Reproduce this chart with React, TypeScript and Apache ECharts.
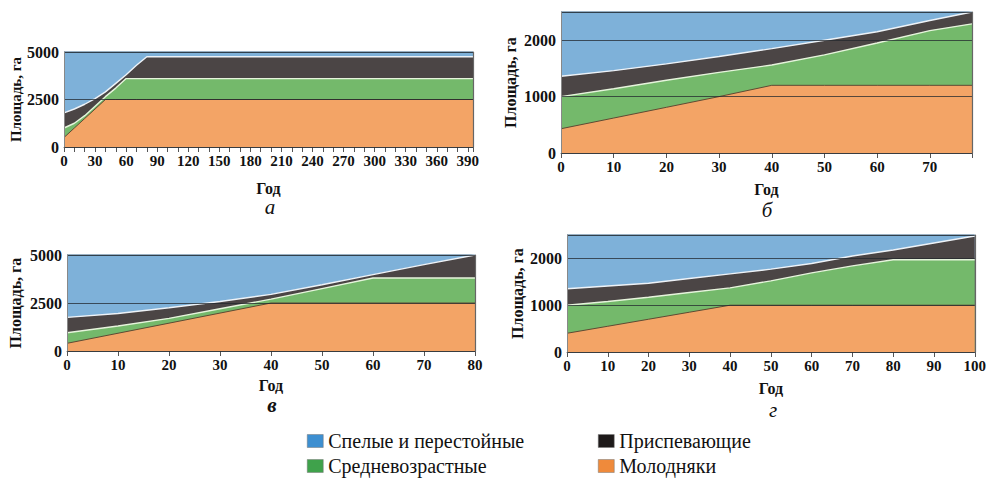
import React, { useEffect, useRef } from "react";
import * as echarts from "echarts";

const SERIES_NAMES = ["Молодняки", "Средневозрастные", "Приспевающие", "Спелые и перестойные"];
const LEGEND_LEFT = ["Спелые и перестойные", "Средневозрастные"];
const LEGEND_RIGHT = ["Приспевающие", "Молодняки"];
const X_NAME = "Год";
const Y_NAME = "Площадь, га";
const PANEL_LETTERS = ["а", "б", "в", "г"];

// Panel а
const yearsA = [0, 10, 20, 30, 40, 50, 60, 70, 80, 395];
const youngA = [500, 1000, 1500, 2000, 2500, 2500, 2500, 2500, 2500, 2500];
const middleA = [500, 250, 150, 150, 150, 600, 1100, 1100, 1100, 1100];
const preMatureA = [800, 750, 600, 400, 250, 250, 200, 700, 1150, 1150];
const matureA = [3200, 3000, 2750, 2450, 2100, 1650, 1200, 700, 250, 250];

// Panel б
const yearsB = [0, 10, 20, 30, 40, 50, 60, 70, 78];
const youngB = [430, 620, 810, 1000, 1200, 1200, 1200, 1200, 1200];
const middleB = [570, 520, 480, 430, 360, 540, 750, 970, 1090];
const preMatureB = [360, 320, 290, 280, 290, 260, 200, 180, 210];
const matureB = [1140, 1040, 920, 790, 650, 500, 350, 150, 0];

// Panel в
const yearsC = [0, 10, 20, 30, 40, 50, 60, 70, 80];
const youngC = [400, 925, 1450, 1975, 2500, 2500, 2500, 2500, 2500];
const middleC = [550, 375, 250, 225, 200, 750, 1300, 1300, 1300];
const preMatureC = [800, 650, 550, 380, 250, 200, 180, 700, 1200];
const matureC = [3250, 3050, 2750, 2420, 2050, 1550, 1020, 500, 0];

// Panel г
const yearsD = [0, 10, 20, 30, 40, 50, 60, 70, 80, 90, 100];
const youngD = [400, 550, 700, 850, 1000, 1000, 1000, 1000, 1000, 1000, 1000];
const middleD = [600, 530, 470, 420, 370, 520, 690, 840, 970, 970, 970];
const preMatureD = [350, 330, 300, 300, 300, 250, 200, 210, 210, 360, 510];
const matureD = [1150, 1090, 1030, 930, 830, 730, 610, 450, 320, 170, 20];

// Axis settings
const xMaxes = [395, 78, 80, 100];
const xLabelSteps = [30, 10, 10, 10];
const yMaxes = [5000, 2500, 5000, 2500];
const yIntervals = [2500, 1000, 2500, 1000];

const FONT = "Liberation Serif";
const AREA_COLORS = ["#f3a466", "#74b96b", "#4b4545", "#7eb1d9"];
const LINE_COLORS = ["#5e4a33", "#e6f4dc", "#eef3f8", "#4d7393"];
const LEGEND_COLORS: Record<string, string> = {
  "Спелые и перестойные": "#3d8fd1",
  "Средневозрастные": "#3fa24b",
  "Приспевающие": "#1e1a1a",
  "Молодняки": "#ef8a3b",
};

const panels = [
  { years: yearsA, values: [youngA, middleA, preMatureA, matureA] },
  { years: yearsB, values: [youngB, middleB, preMatureB, matureB] },
  { years: yearsC, values: [youngC, middleC, preMatureC, matureC] },
  { years: yearsD, values: [youngD, middleD, preMatureD, matureD] },
];

const grids = [
  { left: 64, top: 52, width: 409, height: 95 },
  { left: 561, top: 12, width: 411, height: 141 },
  { left: 67, top: 255, width: 408, height: 96 },
  { left: 567, top: 235, width: 409, height: 117 },
];
const yNameGaps = [40, 43, 44, 42];
const yNameSizes = [15, 16, 16, 16];
const xNameGaps = [33, 28, 26, 28];
const letterPos = [
  [270, 207],
  [767, 210],
  [272, 405],
  [773, 410],
];

export default function App() {
  const ref = useRef<HTMLDivElement>(null);
  useEffect(() => {
    document.body.style.margin = "0";
    if (!ref.current) return;
    const chart = echarts.init(ref.current, undefined, { renderer: "svg" });

    const xAxis = panels.map((_, i) => ({
      type: "value",
      gridIndex: i,
      min: 0,
      max: xMaxes[i],
      interval: 10,
      axisLine: { show: true, lineStyle: { color: "#777", width: 1 } },
      axisTick: { show: true, length: 5, lineStyle: { color: "#555" } },
      axisLabel: {
        color: "#111",
        fontFamily: FONT,
        fontWeight: "bold",
        fontSize: 15,
        margin: 6,
        formatter: (v: number) => (v % xLabelSteps[i] === 0 ? String(v) : ""),
      },
      splitLine: { show: false },
      name: X_NAME,
      nameLocation: "middle",
      nameGap: xNameGaps[i],
      nameTextStyle: { color: "#111", fontFamily: FONT, fontWeight: "bold", fontSize: 16 },
    }));

    const yAxisLeft = panels.map((_, i) => ({
      type: "value",
      gridIndex: i,
      position: "left",
      min: 0,
      max: yMaxes[i],
      interval: yIntervals[i],
      z: 5,
      axisLine: { show: true, lineStyle: { color: "#888", width: 1 } },
      axisTick: { show: false },
      axisLabel: {
        color: "#111",
        fontFamily: FONT,
        fontWeight: "bold",
        fontSize: 16,
        margin: 5,
        formatter: (v: number) => (v % yIntervals[i] === 0 ? String(v) : ""),
      },
      splitLine: { show: true, lineStyle: { color: "rgba(35,40,45,0.75)", width: 1 } },
      name: Y_NAME,
      nameLocation: "middle",
      nameGap: yNameGaps[i],
      nameTextStyle: { color: "#111", fontFamily: FONT, fontWeight: "bold", fontSize: yNameSizes[i] },
    }));
    // Right frame edge of each plot
    const yAxisRight = panels.map((_, i) => ({
      type: "value",
      gridIndex: i,
      position: "right",
      min: 0,
      max: yMaxes[i],
      interval: yIntervals[i],
      z: 5,
      axisLine: { show: true, onZero: false, lineStyle: { color: "#666", width: 1.2 } },
      axisTick: { show: false },
      axisLabel: { show: false },
      splitLine: { show: false },
    }));

    // Cumulative tops (stacking done here; drawn top layer first so lower layers cover it)
    const series: any[] = [];
    panels.forEach((p, i) => {
      const cum = SERIES_NAMES.map((_, k) =>
        p.years.map((_, j) => {
          let s = 0;
          for (let m = 0; m <= k; m++) s += p.values[m][j];
          return s;
        })
      );
      for (let k = SERIES_NAMES.length - 1; k >= 0; k--) {
        series.push({
          name: SERIES_NAMES[k],
          type: "line",
          xAxisIndex: i,
          yAxisIndex: i,
          symbol: "none",
          z: 2 + (SERIES_NAMES.length - k) * 0.1,
          data: p.years.map((x, j) => [x, cum[k][j]]),
          lineStyle: { color: LINE_COLORS[k], width: k === 0 ? 1 : 1.4 },
          itemStyle: { color: AREA_COLORS[k] },
          areaStyle: { color: AREA_COLORS[k], opacity: 1, origin: "start" },
        });
      }
    });

    const legendBase = {
      orient: "vertical",
      itemWidth: 16,
      itemHeight: 13,
      itemGap: 5,
      padding: 0,
      icon: "rect",
      textStyle: { color: "#111", fontFamily: FONT, fontSize: 20 },
      selectedMode: false,
    };

    chart.setOption({
      animation: false,
      backgroundColor: "#ffffff",
      grid: grids,
      xAxis,
      yAxis: [...yAxisLeft, ...yAxisRight],
      series,
      legend: [
        {
          ...legendBase,
          left: 307,
          top: 431,
          data: LEGEND_LEFT.map((n) => ({ name: n, itemStyle: { color: LEGEND_COLORS[n], borderColor: "#777", borderWidth: 0.5 } })),
        },
        {
          ...legendBase,
          left: 598,
          top: 431,
          data: LEGEND_RIGHT.map((n) => ({ name: n, itemStyle: { color: LEGEND_COLORS[n], borderColor: "#777", borderWidth: 0.5 } })),
        },
      ],
      graphic: PANEL_LETTERS.map((t, i) => ({
        type: "text",
        x: letterPos[i][0],
        y: letterPos[i][1],
        style: {
          text: t,
          fill: "#111",
          fontFamily: FONT,
          fontStyle: "italic",
          fontWeight: i === 2 ? "bold" : "normal",
          fontSize: 21,
          textAlign: "center",
          textVerticalAlign: "middle",
        },
      })),
    });
    return () => chart.dispose();
  }, []);
  return <div ref={ref} style={{ width: 989, height: 481 }} />;
}
